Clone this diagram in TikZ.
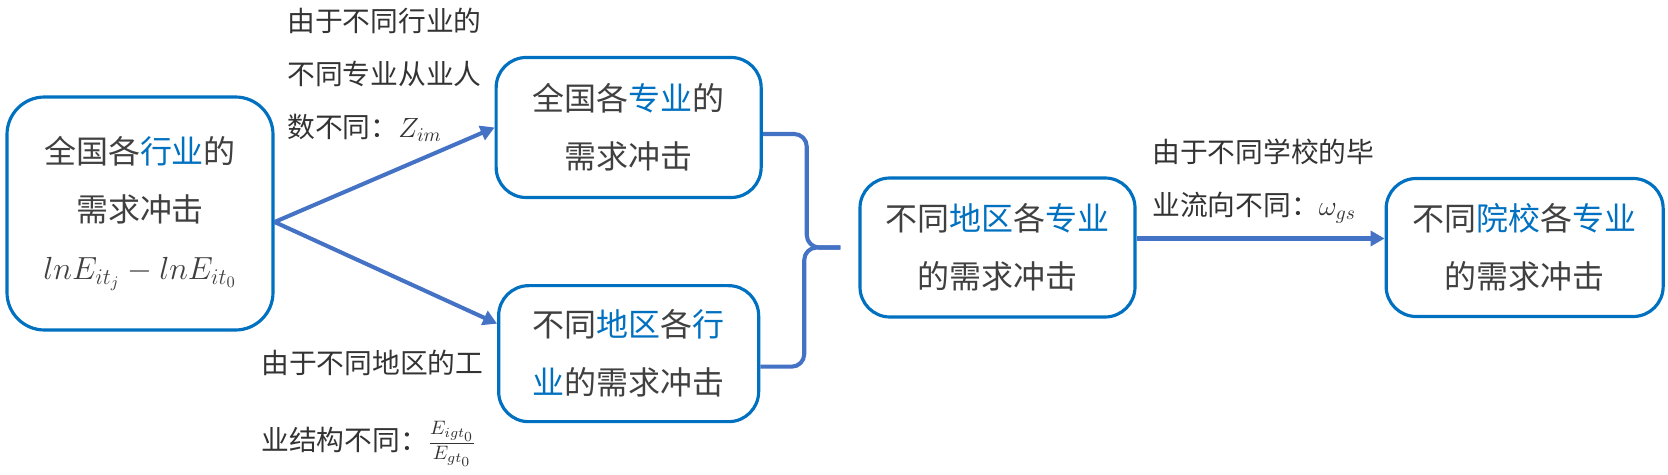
\RequirePackage{fix-cm}
\documentclass[tikz,border=0pt]{standalone}
\usepackage{fontspec}
\usepackage{amsmath}
\usepackage{xcolor}
\usepackage{tikz}
\usetikzlibrary{arrows.meta, positioning, calc}
\setmainfont{Noto Sans CJK SC}
\definecolor{boxblue}{HTML}{0070C0}
\definecolor{linkblue}{HTML}{4472C4}
\definecolor{textgray}{HTML}{404040}
\newcommand{\blueword}[1]{\textcolor{boxblue}{#1}}
\tikzstyle{block} = [rectangle, draw=boxblue, line width=1.8pt, rounded corners=0.6cm, align=center, text=textgray, font=\fontsize{18.2}{33}\selectfont]
\tikzstyle{note} = [align=left, inner sep=0pt, anchor=north west, text=black!80, font=\fontsize{15.8}{30}\selectfont]
\tikzstyle{arrow} = [draw=linkblue, line width=2.3pt, ->, >={Triangle[length=0.28cm, width=0.3cm]}]
\tikzstyle{brace} = [draw=linkblue, line width=2.3pt, rounded corners=0.25cm]

\begin{document}
\begin{tikzpicture}
    \useasboundingbox (0,0) rectangle (33.36,-9.5);

    % National industry shock
    \node (nation) [block, minimum width=5.32cm, minimum height=4.66cm, rounded corners=0.75cm] at (2.80,-4.27) {全国各\blueword{行业}的\\需求冲击\\$lnE_{it_j}-lnE_{it_0}$};

    % National major shock
    \node (major) [block, minimum width=5.3cm, minimum height=2.8cm, right=4.4cm of nation, yshift=1.72cm] {全国各\blueword{专业}的\\需求冲击};

    % Regional industry shock
    \node (industry) [block, minimum width=5.2cm, minimum height=2.72cm, below=1.7cm of major] {不同\blueword{地区}各\blueword{行}\\\blueword{业}的需求冲击};

    % Regional major shock
    \node (regmajor) [block, minimum width=5.5cm, minimum height=2.78cm] at (19.95,-4.95) {不同\blueword{地区}各\blueword{专业}\\的需求冲击};

    % School major shock
    \node (school) [block, minimum width=5.54cm, minimum height=2.76cm, right=4.96cm of regmajor] {不同\blueword{院校}各\blueword{专业}\\的需求冲击};

    % Reasons
    \node (whymajor) [note] at (5.74,-0.16) {由于不同行业的\\不同专业从业人\\数不同：$Z_{im}$};
    \node (whyregion) [note] at (5.22,-6.99) {由于不同地区的工\\[13.7pt]业结构不同：$\frac{E_{igt_0}}{E_{gt_0}}$};
    \node (whyschool) [note] at (23.04,-2.78) {由于不同学校的毕\\业流向不同：$\omega_{gs}$};

    % Links
    \draw [arrow] ($(nation.east)+(0,-0.17)$) -- (major.west);
    \draw [arrow] ($(nation.east)+(0,-0.17)$) -- ($(industry.west)+(0,0.6)$);
    \coordinate (tip) at ($(regmajor.west)+(-0.36,0)$);
    \draw [brace] ($(major.east)+(0,-0.13)$) -- ++(0.88,0) |- (tip);
    \draw [brace] ($(industry.east)+(0,-0.26)$) -- ++(0.88,0) |- (tip);
    \draw [arrow] ($(regmajor.east)+(0,0.18)$) -- ($(school.west)+(0,0.18)$);
\end{tikzpicture}
\end{document}
